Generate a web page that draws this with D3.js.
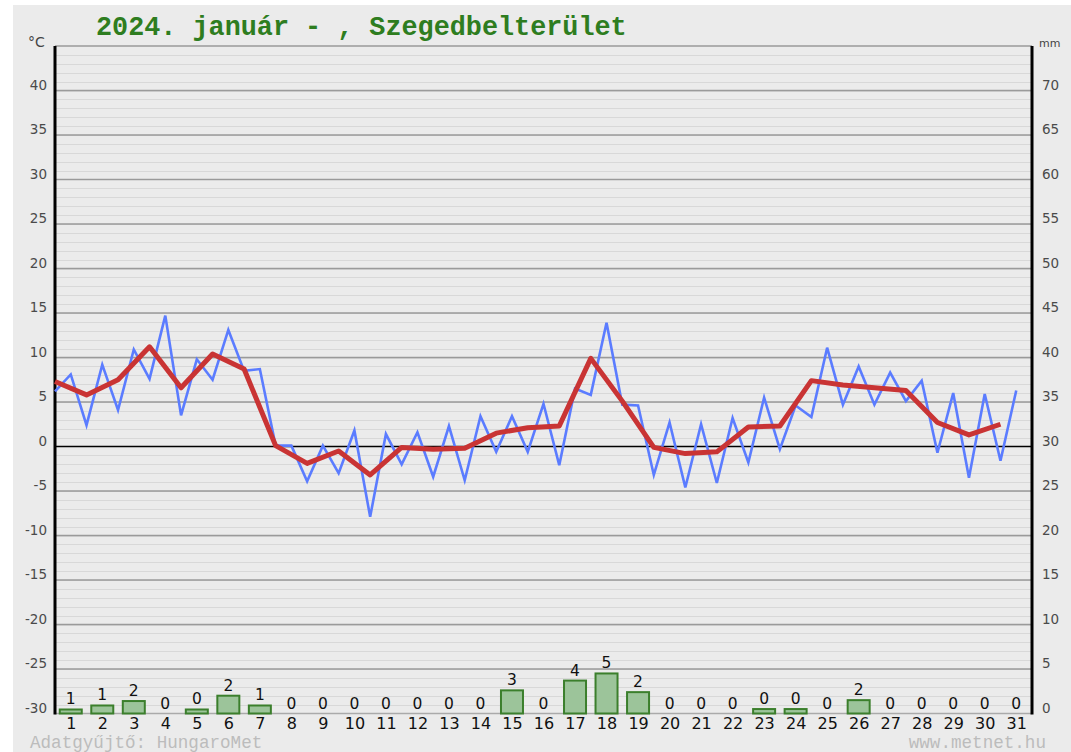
<!DOCTYPE html>
<html><head><meta charset="utf-8">
<script src="https://cdn.jsdelivr.net/npm/d3@7"></script>
<style>body{margin:0;background:#fff}svg{display:block}</style>
</head><body>
<svg id="c" width="1071" height="752"></svg>
<script>
// ---- data ----
const days = d3.range(1, 32);
// half-day temperature readings, starting at the start of day 1, step 0.5 day
const tempHalfDay = [6.2,8.1,2.4,9.2,4.1,10.9,7.6,14.7,3.5,9.8,7.5,13.1,8.5,8.7,0.1,0.1,
  -3.9,0.1,-3.0,1.8,-7.9,1.4,-2.0,1.6,-3.4,2.3,-3.8,3.4,-0.6,3.4,-0.6,4.8,
  -2.1,6.5,5.8,13.9,4.7,4.6,-3.2,2.7,-4.6,2.5,-4.1,3.2,-1.8,5.5,-0.3,4.6,
  3.3,11.1,4.7,9.0,4.7,8.3,5.1,7.4,-0.7,6.0,-3.5,5.9,-1.6,6.3];
// daily mean temperature, one per day (plotted at start of each day)
const tempMean = [7.3,5.8,7.5,11.2,6.6,10.4,8.7,0.1,-1.9,-0.5,-3.2,-0.1,-0.3,-0.2,1.5,2.1,
  2.3,9.9,5.1,-0.1,-0.8,-0.6,2.2,2.3,7.4,6.9,6.6,6.3,2.7,1.3,2.5];
const precipMm = [0.45,0.9,1.4,0,0.45,2.0,0.9,0,0,0,0,0,0,0,2.6,0,3.7,4.5,2.4,0,0,0,0.5,0.5,0,1.5,0,0,0,0,0];
const precipLabels = ["1","1","2","0","0","2","1","0","0","0","0","0","0","0","3","0","4","5","2","0","0","0","0","0","0","2","0","0","0","0","0"];
const tempTicks = d3.range(-30, 41, 5);
const mmTicks = d3.range(0, 71, 5);
const titleText = "2024. január - , Szegedbelterület";

// ---- layout ----
const svg = d3.select("#c");
const L = 55, R = 1032, T = 46, B = 713.5;
const x = d3.scaleLinear().domain([0.5, 31.5]).range([L, R]);
const y = d3.scaleLinear().domain([-30, 45]).range([B, T]);
const yMm = d3.scaleLinear().domain([0, 75]).range([B, T]);

svg.append("rect").attr("x", 13).attr("y", 5).attr("width", 1058).attr("height", 747).attr("fill", "#ebebeb");

// minor grid every degree
const g = svg.append("g");
g.selectAll("line.minor").data(d3.range(-29, 45)).enter().append("line")
  .attr("x1", L).attr("x2", R).attr("y1", d => Math.round(y(d)) + 0.5).attr("y2", d => Math.round(y(d)) + 0.5)
  .attr("stroke", "#d8d8d8").attr("stroke-width", 1.2);
// major grid
g.selectAll("line.major").data(d3.range(-25, 46, 5).filter(d => d !== 0)).enter().append("line")
  .attr("x1", L).attr("x2", R).attr("y1", d => y(d)).attr("y2", d => y(d))
  .attr("stroke", "#9a9a9a").attr("stroke-width", 1.6);
// bottom line
g.append("line").attr("x1", L).attr("x2", R).attr("y1", y(-30)).attr("y2", y(-30)).attr("stroke", "#aaa").attr("stroke-width", 1.5);
// zero line
g.append("line").attr("x1", L).attr("x2", R).attr("y1", y(0)).attr("y2", y(0)).attr("stroke", "#000").attr("stroke-width", 1.6);

// axes
const axL = d3.axisLeft(y).tickValues(tempTicks).tickSize(0).tickPadding(8);
const gl = svg.append("g").attr("transform", `translate(${L},0)`).call(axL);
gl.select(".domain").remove();
gl.selectAll("text").attr("font-family", "DejaVu Sans, sans-serif").attr("font-size", 13.5).attr("fill", "#4a4a4a")
  .attr("dy", "-0.1em").text(d => d < 0 ? "-" + Math.abs(d) : d);
const axR = d3.axisRight(yMm).tickValues(mmTicks).tickSize(0).tickPadding(10);
const gr = svg.append("g").attr("transform", `translate(${R},0)`).call(axR);
gr.select(".domain").remove();
gr.selectAll("text").attr("font-family", "DejaVu Sans, sans-serif").attr("font-size", 13.5).attr("fill", "#4a4a4a").attr("dy", "-0.1em");

svg.append("line").attr("x1", L).attr("x2", L).attr("y1", T).attr("y2", B + 1).attr("stroke", "#000").attr("stroke-width", 3);
svg.append("line").attr("x1", R).attr("x2", R).attr("y1", T).attr("y2", B + 1).attr("stroke", "#000").attr("stroke-width", 3);

svg.append("text").attr("x", 28).attr("y", 47).attr("font-family", "DejaVu Sans, sans-serif").attr("font-size", 14).attr("fill", "#444").text("°C");
svg.append("text").attr("x", 1039).attr("y", 47).attr("font-family", "DejaVu Sans, sans-serif").attr("font-size", 11).attr("fill", "#444").text("mm");

// x axis
const axB = d3.axisBottom(x).tickValues(days).tickSize(0).tickPadding(4);
const gb = svg.append("g").attr("transform", `translate(0,${B})`).call(axB);
gb.select(".domain").remove();
gb.selectAll("text").attr("font-family", "DejaVu Sans, sans-serif").attr("font-size", 16).attr("fill", "#111");

// precipitation bars
const bw = 22;
svg.append("g").selectAll("rect").data(days).enter().append("rect")
  .attr("x", d => x(d) - bw / 2).attr("width", bw)
  .attr("y", (d, i) => yMm(precipMm[i])).attr("height", (d, i) => B - yMm(precipMm[i]))
  .attr("fill", "#9cc49a").attr("stroke", "#3b7f2c").attr("stroke-width", 2);
svg.append("g").selectAll("text").data(days).enter().append("text")
  .attr("x", d => x(d)).attr("y", (d, i) => yMm(precipMm[i]) - 5)
  .attr("text-anchor", "middle").attr("font-family", "DejaVu Sans, sans-serif").attr("font-size", 15.5).attr("fill", "#111")
  .text((d, i) => precipLabels[i]);

// temperature lines
const blue = d3.line().x((d, i) => x(0.5 + i * 0.5)).y(d => y(d));
svg.append("path").datum(tempHalfDay).attr("d", blue).attr("fill", "none")
  .attr("stroke", "#5b7cff").attr("stroke-width", 2.6).attr("stroke-linejoin", "miter");
const red = d3.line().x((d, i) => x(0.5 + i)).y(d => y(d));
svg.append("path").datum(tempMean).attr("d", red).attr("fill", "none")
  .attr("stroke", "#c93434").attr("stroke-width", 5).attr("stroke-linejoin", "round");

// title & footer
svg.append("text").attr("x", 96).attr("y", 35).attr("font-family", "Liberation Mono, Courier New, monospace")
  .attr("font-weight", "bold").attr("font-size", 26.8).attr("fill", "#2e7d20").text(titleText);
svg.append("text").attr("x", 30).attr("y", 748).attr("font-family", "Liberation Mono, monospace")
  .attr("font-size", 17.6).attr("fill", "#bcbcbc").text("Adatgyűjtő: HungaroMet");
svg.append("text").attr("x", 1046).attr("y", 748).attr("text-anchor", "end").attr("font-family", "Liberation Mono, monospace")
  .attr("font-size", 17.6).attr("fill", "#bcbcbc").text("www.metnet.hu");
</script>
</body></html>
